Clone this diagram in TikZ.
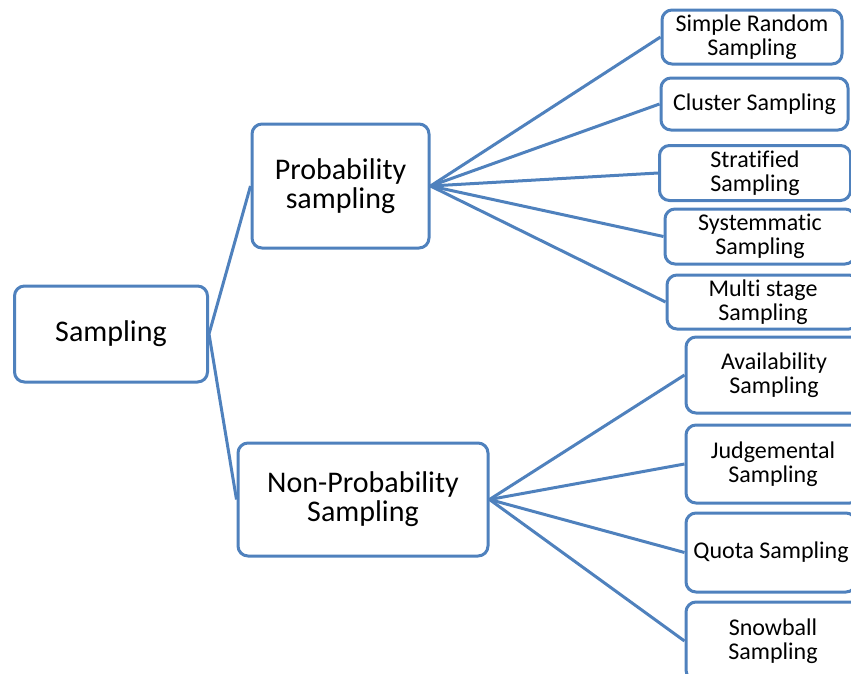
\documentclass[tikz,border=0pt]{standalone}
\usepackage{fontspec}
\setmainfont[Ligatures=NoCommon, RawFeature={-liga;-clig;-calt}]{Carlito}
\definecolor{sblue}{HTML}{4F81BD}
\tikzset{
  box/.style={draw=sblue, line width=3pt, rounded corners=10pt, fill=white, align=center, inner sep=0pt},
  main/.style={box, font=\fontsize{30}{29}\selectfont},
  leaf/.style={box, font=\fontsize{24}{24}\selectfont},
  link/.style={draw=sblue, line width=3pt}
}
\begin{document}
\begin{tikzpicture}[x=1pt, y=-1pt]
\useasboundingbox (0,0) rectangle (851,673);

\node[main, minimum width=193, minimum height=96] (samp) at (111,334) {Sampling};
\node[main, minimum width=177, minimum height=124] (prob) at (340.5,186) {Probability\\sampling};
\node[main, minimum width=250, minimum height=113] (nonprob) at (363,499.5) {Non-Probability\\Sampling};

\node[leaf, minimum width=180, minimum height=54] (srs) at (752,37) {Simple Random\\Sampling};
\node[leaf, minimum width=187, minimum height=52] (clus) at (754.5,104) {Cluster Sampling};
\node[leaf, minimum width=191, minimum height=55] (strat) at (755,173) {Stratified\\Sampling};
\node[leaf, minimum width=190, minimum height=55] (syst) at (760,236.5) {Systemmatic\\Sampling};
\node[leaf, minimum width=192, minimum height=54] (multi) at (763,302) {Multi stage\\Sampling};

\node[leaf, minimum width=176, minimum height=76] (avail) at (774,375) {Availability\\Sampling};
\node[leaf, minimum width=174, minimum height=78] (judg) at (773,464) {Judgemental\\Sampling};
\node[leaf, minimum width=170, minimum height=79] (quota) at (771,552.5) {Quota Sampling};
\node[leaf, minimum width=174, minimum height=78] (snow) at (773,641) {Snowball\\Sampling};

\draw[link] (prob.west) -- (samp.east) -- (nonprob.west);
\foreach \n in {srs,clus,strat,syst,multi}
    \draw[link] (prob.east) -- (\n.west);
\foreach \n in {avail,judg,quota,snow}
    \draw[link] (nonprob.east) -- (\n.west);
\end{tikzpicture}
\end{document}
